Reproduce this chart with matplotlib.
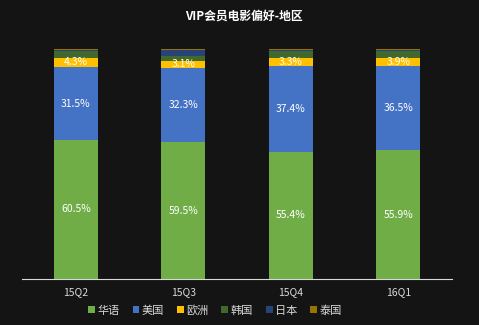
import numpy as np
import matplotlib
matplotlib.use("Agg")
import matplotlib.pyplot as plt

plt.rcParams['font.family'] = ['Noto Sans CJK SC', 'DejaVu Sans']

# data
quarters = ['15Q2', '15Q3', '15Q4', '16Q1']
regions = ['华语', '美国', '欧洲', '韩国', '日本', '泰国']
huayu = [60.5, 59.5, 55.4, 55.9]
meiguo = [31.5, 32.3, 37.4, 36.5]
ouzhou = [4.3, 3.1, 3.3, 3.9]
hanguo = [2.9, 2.2, 3.0, 2.8]
riben = [0.5, 2.4, 0.5, 0.5]
taiguo = [0.3, 0.5, 0.4, 0.4]
series = [huayu, meiguo, ouzhou, hanguo, riben, taiguo]
show_label = [True, True, True, False, False, False]

colors = ['#70AD47', '#4472C4', '#FFC000', '#43682B', '#264478', '#997300']
bg = '#141414'

fig = plt.figure(figsize=(4.79, 3.25), dpi=100, facecolor=bg)
ax = fig.add_axes([0.046, 0.1415, 0.898, 0.7077], facecolor=bg)

x = np.arange(len(quarters))
bottom = np.zeros(len(quarters))
handles = []
for name, vals, col, lab in zip(regions, series, colors, show_label):
	vals = np.array(vals)
	b = ax.bar(x, vals, 0.41, bottom=bottom, color=col, label=name, linewidth=0)
	handles.append(b)
	if lab:
		for xi, v, bt in zip(x, vals, bottom):
			ax.text(xi, bt + v / 2, '%.1f%%' % v, ha='center', va='center',
					color='white', fontsize=7.5)
	bottom += vals

ax.set_xlim(-0.5, 3.5)
ax.set_ylim(0, 100)
ax.set_yticks([])
ax.set_xticks(x)
ax.set_xticklabels(quarters, color='#d9d9d9', fontsize=7.5)
ax.tick_params(axis='x', length=0, pad=6)
for s in ['top', 'right', 'left']:
	ax.spines[s].set_visible(False)
ax.spines['bottom'].set_color('#d9d9d9')
ax.spines['bottom'].set_linewidth(0.8)

fig.text(0.51, 0.95, 'VIP会员电影偏好-地区', ha='center', va='center',
		 color='white', fontsize=8.5, fontweight='bold')

leg = fig.legend(handles=handles, loc='center', bbox_to_anchor=(0.449, 0.045), ncol=6,
				 frameon=False, fontsize=8, handlelength=0.6, handleheight=0.6,
				 handletextpad=0.25, columnspacing=1.15, labelcolor='#d9d9d9')

plt.savefig('out.png', dpi=100, facecolor=bg)
